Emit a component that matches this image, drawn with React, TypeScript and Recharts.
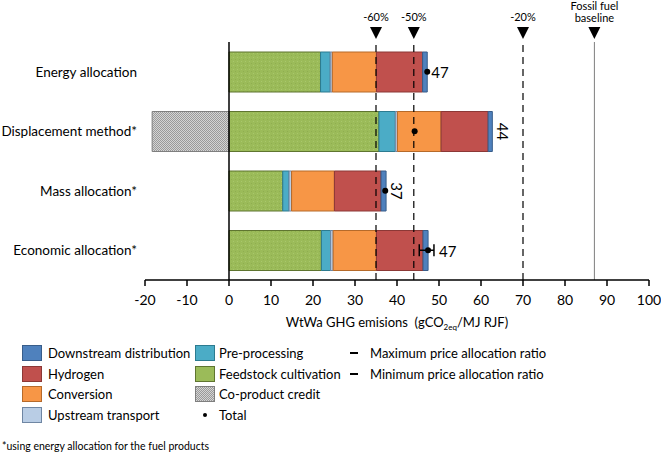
import {
  BarChart,
  Bar,
  XAxis,
  YAxis,
  ReferenceLine,
  ReferenceDot,
  LabelList
} from "recharts";

const categories = [
  "Energy allocation",
  "Displacement method*",
  "Mass allocation*",
  "Economic allocation*"
];

// gCO2eq/MJ
const feedstock = [21.8, 35.7, 12.8, 22.0];
const preprocessing = [2.3, 3.9, 1.5, 2.2];
const upstream = [0.5, 0.5, 0.6, 0.6];
const conversion = [10.5, 10.4, 10.2, 10.3];
const hydrogen = [11.0, 11.2, 11.1, 11.1];
const downstream = [1.1, 1.0, 1.2, 1.2];
const coproduct = [null, -18.3, null, null];

const totals = [47.2, 44.2, 37.2, 47.4];
const totalLabels = ["47", "44", "37", "47"];

// economic allocation: min / max price allocation ratio
const priceRange = [45.3, 48.8];

const targets = [
  { value: 35, label: "-60%" },
  { value: 44, label: "-50%" },
  { value: 70, label: "-20%" }
];
const fossilBaseline = 87;

const xTicks = [-20, -10, 0, 10, 20, 30, 40, 50, 60, 70, 80, 90, 100];

const series = [
  { key: "feedstock", name: "Feedstock cultivation", fill: "url(#dots)", swatch: "#9bbb59", stroke: "#5f7530" },
  { key: "preprocessing", name: "Pre-processing", fill: "#4bacc6", swatch: "#4bacc6", stroke: "#2c7b90" },
  { key: "upstream", name: "Upstream transport", fill: "#b9cde5", swatch: "#b9cde5", stroke: "#6f86a3" },
  { key: "conversion", name: "Conversion", fill: "#f79646", swatch: "#f79646", stroke: "#b66a2a" },
  { key: "hydrogen", name: "Hydrogen", fill: "#c0504d", swatch: "#c0504d", stroke: "#8c3836" },
  { key: "downstream", name: "Downstream distribution", fill: "#4f81bd", swatch: "#4f81bd", stroke: "#385d8a" },
  { key: "coproduct", name: "Co-product credit", fill: "url(#checker)", swatch: "url(#checker)", stroke: "#7f7f7f" }
];

const data = categories.map((c, i) => ({
  name: c,
  feedstock: feedstock[i],
  preprocessing: preprocessing[i],
  upstream: upstream[i],
  conversion: conversion[i],
  hydrogen: hydrogen[i],
  downstream: downstream[i],
  coproduct: coproduct[i]
}));

const rotated = [false, true, true, false];
const labelGap = [4, 9, 9, 11];

function TotalLabel(props: any) {
  const { x, y, width, height, index } = props;
  const end = x + width;
  const cy = y + height / 2;
  if (rotated[index]) {
    const tx = end + labelGap[index] + 2;
    return (
      <text
        x={tx}
        y={cy}
        fontSize={15}
        textAnchor="middle"
        dominantBaseline="central"
        transform={`rotate(90 ${tx} ${cy})`}
      >
        {totalLabels[index]}
      </text>
    );
  }
  return (
    <text x={end + labelGap[index]} y={cy} fontSize={15} dominantBaseline="central">
      {totalLabels[index]}
    </text>
  );
}

function CategoryTick(props: any) {
  const { x, y, payload } = props;
  return (
    <text x={x} y={y} textAnchor="end" dominantBaseline="central" fontSize={13.5} fill="#000">
      {payload.value}
    </text>
  );
}

function TopMarker(props: any) {
  const { viewBox, text, lines } = props;
  const x = viewBox.x;
  const y = viewBox.y;
  return (
    <g>
      <path d={`M${x - 6},${y - 15} L${x + 6},${y - 15} L${x},${y - 3} Z`} fill="#000" />
      {lines ? (
        <text fontSize={11} textAnchor="middle" fill="#000">
          <tspan x={x} y={y - 32}>{lines[0]}</tspan>
          <tspan x={x} y={y - 20}>{lines[1]}</tspan>
        </text>
      ) : (
        <text x={x} y={y - 21} fontSize={11} textAnchor="middle" fill="#000">
          {text}
        </text>
      )}
    </g>
  );
}

function ErrorShape(props: any) {
  const { x1, y1, x2, y2 } = props;
  return (
    <g stroke="#000" strokeWidth={1.5}>
      <line x1={x1} y1={y1} x2={x2} y2={y2} />
      <line x1={x1} y1={y1 - 6} x2={x1} y2={y1 + 6} />
      <line x1={x2} y1={y2 - 6} x2={x2} y2={y2 + 6} />
    </g>
  );
}

function AxisTitle(props: any) {
  const { viewBox } = props;
  const cx = viewBox.x + viewBox.width / 2;
  return (
    <text x={cx} y={viewBox.y + 47} fontSize={13} textAnchor="middle" fill="#000" style={{ whiteSpace: "pre" }}>
      {"WtWa GHG emisions  (gCO"}
      <tspan fontSize={8} dy="3">2eq</tspan>
      <tspan dy="-3">/MJ RJF)</tspan>
    </text>
  );
}

const legendCol1 = ["downstream", "hydrogen", "conversion", "upstream"];
const legendCol2 = ["preprocessing", "feedstock", "coproduct"];
const legendCol3 = ["Maximum price allocation ratio", "Minimum price allocation ratio"];

function Swatch({ k }: { k: string }) {
  const s = series.find((d) => d.key === k)!;
  return (
    <svg width={20} height={16} style={{ display: "block" }}>
      <defs>
        <pattern id={`sw-${k}`} width="2" height="2" patternUnits="userSpaceOnUse">
          <rect width="2" height="2" fill="#d4d4d4" />
          <rect width="1" height="1" fill="#9a9a9a" />
          <rect x="1" y="1" width="1" height="1" fill="#9a9a9a" />
        </pattern>
      </defs>
      <rect
        x={0.5}
        y={0.5}
        width={19}
        height={15}
        fill={k === "coproduct" ? `url(#sw-${k})` : s.swatch}
        stroke={s.stroke}
      />
    </svg>
  );
}

const rowTop = 345;
const rowStep = 20.7;

export default function App() {
  return (
    <div
      style={{
        position: "absolute",
        left: 0,
        top: 0,
        width: 661,
        height: 452,
        background: "#fff",
        fontFamily: "Lato, 'Liberation Sans', sans-serif",
        color: "#000"
      }}
    >
      <BarChart
        width={661}
        height={452}
        data={data}
        layout="vertical"
        stackOffset="sign"
        barSize={40}
        margin={{ top: 42, right: 12, left: 0, bottom: 142 }}
      >
        <defs>
          <pattern id="dots" width="4" height="4" patternUnits="userSpaceOnUse">
            <rect width="4" height="4" fill="#9bbb59" />
            <rect x="1" y="1" width="1" height="1" fill="#a9c76c" />
            <rect x="3" y="3" width="1" height="1" fill="#8fae50" />
          </pattern>
          <pattern id="checker" width="2" height="2" patternUnits="userSpaceOnUse">
            <rect width="2" height="2" fill="#d4d4d4" />
            <rect width="1" height="1" fill="#9a9a9a" />
            <rect x="1" y="1" width="1" height="1" fill="#9a9a9a" />
          </pattern>
        </defs>

        <XAxis
          type="number"
          domain={[-20, 100]}
          ticks={xTicks}
          interval={0}
          axisLine={{ stroke: "#000", strokeWidth: 1.5 }}
          tickLine={{ stroke: "#000", strokeWidth: 1.5 }}
          tickSize={6}
          tickMargin={9}
          tick={{ fill: "#000", fontSize: 14 }}
          height={30}
          label={<AxisTitle />}
        />

        <YAxis
          type="category"
          dataKey="name"
          width={145}
          axisLine={false}
          tickLine={false}
          tickSize={0}
          tickMargin={8}
          tick={<CategoryTick />}
        />

        {series.map((s) => (
          <Bar
            key={s.key}
            dataKey={s.key}
            stackId="a"
            fill={s.fill}
            stroke={s.stroke}
            strokeWidth={1}
            isAnimationActive={false}
          >
            {s.key === "downstream" && (
              <LabelList dataKey="downstream" content={<TotalLabel />} />
            )}
          </Bar>
        ))}

        <ReferenceLine x={0} stroke="#000" strokeWidth={1.5} />

        {targets.map((t) => (
          <ReferenceLine
            key={t.label}
            x={t.value}
            stroke="#000"
            strokeWidth={1.2}
            strokeDasharray="7 5"
            label={<TopMarker text={t.label} />}
          />
        ))}

        <ReferenceLine
          x={fossilBaseline}
          stroke="#7f7f7f"
          strokeWidth={1}
          label={<TopMarker lines={["Fossil fuel", "baseline"]} />}
        />

        <ReferenceLine
          segment={[
            { x: priceRange[0], y: categories[3] },
            { x: priceRange[1], y: categories[3] }
          ]}
          shape={<ErrorShape />}
        />

        {categories.map((c, i) => (
          <ReferenceDot
            key={c}
            x={totals[i]}
            y={c}
            r={3}
            fill="#000"
            stroke="none"
          />
        ))}
      </BarChart>

      {legendCol1.map((k, i) => (
        <div
          key={k}
          style={{ position: "absolute", left: 22, top: rowTop + i * rowStep, display: "flex", alignItems: "center", fontSize: 13 }}
        >
          <Swatch k={k} />
          <span style={{ marginLeft: 6 }}>{series.find((s) => s.key === k)!.name}</span>
        </div>
      ))}

      {legendCol2.map((k, i) => (
        <div
          key={k}
          style={{ position: "absolute", left: 195, top: rowTop + i * rowStep, display: "flex", alignItems: "center", fontSize: 13 }}
        >
          <Swatch k={k} />
          <span style={{ marginLeft: 4 }}>{series.find((s) => s.key === k)!.name}</span>
        </div>
      ))}

      <div
        style={{ position: "absolute", left: 195, top: rowTop + 3 * rowStep, height: 16, display: "flex", alignItems: "center", fontSize: 13 }}
      >
        <span style={{ width: 20, display: "flex", justifyContent: "center" }}>
          <span style={{ width: 4, height: 4, borderRadius: 2, background: "#000" }} />
        </span>
        <span style={{ marginLeft: 4 }}>Total</span>
      </div>

      {legendCol3.map((t, i) => (
        <div
          key={t}
          style={{ position: "absolute", left: 350, top: rowTop + i * rowStep, height: 16, display: "flex", alignItems: "center", fontSize: 13 }}
        >
          <span style={{ width: 8, height: 2, background: "#000" }} />
          <span style={{ marginLeft: 12 }}>{t}</span>
        </div>
      ))}

      <div style={{ position: "absolute", left: 2, top: 440, fontSize: 10.5 }}>
        *using energy allocation for the fuel products
      </div>
    </div>
  );
}
